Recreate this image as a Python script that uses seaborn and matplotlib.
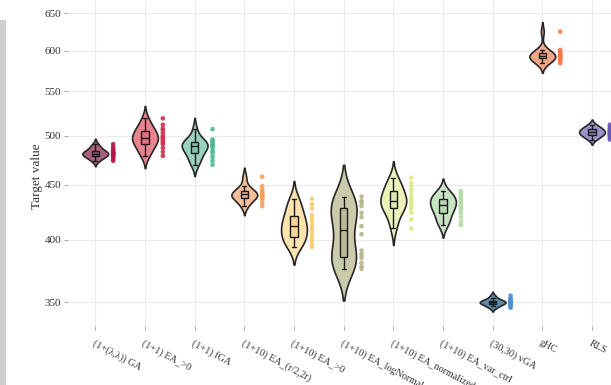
import numpy as np
import pandas as pd
import matplotlib
matplotlib.use("Agg")
import matplotlib.pyplot as plt
import matplotlib.ticker as mticker
from matplotlib.patches import Rectangle
import seaborn as sns

categories = ["(1+(λ,λ)) GA", "(1+1) EA_>0", "(1+1) fGA", "(1+10) EA_(r/2,2r)",
              "(1+10) EA_>0", "(1+10) EA_logNormal", "(1+10) EA_normalized",
              "(1+10) EA_var_ctrl", "(30,30) vGA", "gHC", "RLS"]

ga = [474, 476, 478, 479, 480, 481, 481, 482, 483, 484, 486, 488, 491]
ea_1 = [479, 483, 487, 491, 493, 495, 497, 498, 500, 503, 506, 508, 512, 519]
fga = [470, 474, 478, 482, 484, 487, 489, 490, 491, 493, 495, 496, 507]
ea_r2 = [430, 433, 436, 438, 439, 440, 441, 441, 442, 444, 446, 449, 458]
ea_10 = [394, 397, 400, 402, 405, 408, 411, 413, 416, 419, 422, 428, 432, 437]
ea_lognormal = [376, 378, 381, 385, 388, 391, 405, 412, 420, 424, 430, 433, 435, 439]
ea_normalized = [410, 418, 424, 428, 430, 432, 434, 436, 438, 441, 445, 448, 452, 457]
ea_varctrl = [413, 416, 420, 424, 427, 429, 431, 433, 435, 437, 439, 441, 444]
vga = [346, 347, 348, 349, 349, 350, 350, 350, 351, 351, 352, 353, 355]
ghc = [584, 586, 588, 590, 591, 592, 593, 594, 595, 597, 599, 601, 625]
rls = [496, 498, 500, 501, 502, 503, 504, 505, 506, 507, 508, 510, 512]

series = [ga, ea_1, fga, ea_r2, ea_10, ea_lognormal, ea_normalized, ea_varctrl, vga, ghc, rls]

violin_colors = ["#ad5f80", "#e9848f", "#97d3bd", "#f6bf9a", "#fbe3b0", "#cbcbac",
                 "#eef3bb", "#c8e5c3", "#5d89aa", "#f2a787", "#9b94c8"]
box_colors = ["#9a4b6c", "#dc7380", "#84c4ad", "#eeae88", "#f5d59c", "#bcbc9a",
              "#e2e9a8", "#b6d9b1", "#2c4d66", "#e8957a", "#8982bc"]
point_colors = ["#b5134b", "#d0304f", "#4bb894", "#f5a15d", "#f7cc6e", "#b5b58a",
                "#dcea86", "#b2dba8", "#4a8fd4", "#f47a48", "#6a58b8"]
yticks = [350, 400, 450, 500, 550, 600, 650]

rows = []
for i, (c, vals) in enumerate(zip(categories, series)):
    for v in vals:
        rows.append({"method": c, "value": v, "xpos": i + 0.36})
df = pd.DataFrame(rows)

sns.set_theme(style="whitegrid")
plt.rcParams["font.family"] = ["Liberation Serif", "DejaVu Serif"]

fig = plt.figure(figsize=(6.11, 3.85), dpi=100)
W, H = 611, 385
ax = fig.add_axes([68 / W, 1 - 326 / H, (W - 68) / W, 326 / H])
ax.set_yscale("log")

sns.violinplot(data=df, x="method", y="value", hue="method", order=categories,
               hue_order=categories, palette=violin_colors, saturation=1,
               inner=None, density_norm="width", width=0.52, cut=2,
               linewidth=1.2, linecolor="#262626", legend=False, ax=ax)
sns.boxplot(data=df, x="method", y="value", hue="method", order=categories,
            hue_order=categories, palette=box_colors, saturation=1,
            width=0.15, showfliers=False, linewidth=1.0, linecolor="#1a1a1a",
            legend=False, ax=ax)
for coll in ax.collections:
    coll.set_zorder(2)
sns.scatterplot(data=df, x="xpos", y="value", hue="method", hue_order=categories,
                palette=point_colors, s=11, linewidth=0, alpha=0.9,
                legend=False, ax=ax, zorder=4)

ymin = 350 * np.exp(-(326 - 302.3) / 466.9)
ymax = 350 * np.exp(302.3 / 466.9)
ax.set_ylim(ymin, ymax)
x0 = 95.3
step = 49.67
ax.set_xlim((68 - x0) / step, (W - x0) / step)

ax.yaxis.set_major_locator(mticker.FixedLocator(yticks))
ax.yaxis.set_major_formatter(mticker.FixedFormatter([str(t) for t in yticks]))
ax.yaxis.set_minor_locator(mticker.NullLocator())
ax.set_xticks(range(len(categories)))
ax.set_xticklabels(categories, rotation=-28, ha="left", va="top",
                   rotation_mode="anchor", fontsize=7.2, color="#333333")
for lab in ax.get_yticklabels():
    lab.set_fontsize(8)
    lab.set_color("#333333")

ax.tick_params(axis="both", which="major", length=3, width=0.6, color="#9a9a9a",
               pad=2, bottom=True, left=True)
ax.tick_params(axis="x", pad=6)
ax.grid(True, color="#ececec", linewidth=0.8)
ax.set_axisbelow(True)
for s in ax.spines.values():
    s.set_visible(False)
ax.set_facecolor("white")

ax.set_xlabel("")
ax.set_ylabel("Target value", fontsize=9.5, color="#333333")
ax.yaxis.set_label_coords(-25 / (W - 68), 1 - 176 / 326)

fig.patches.append(Rectangle((0, 0), 6 / W, 1 - 20 / H, transform=fig.transFigure,
                             facecolor="#cfcfcf", edgecolor="none", zorder=0))

fig.savefig("out.png", dpi=100)
